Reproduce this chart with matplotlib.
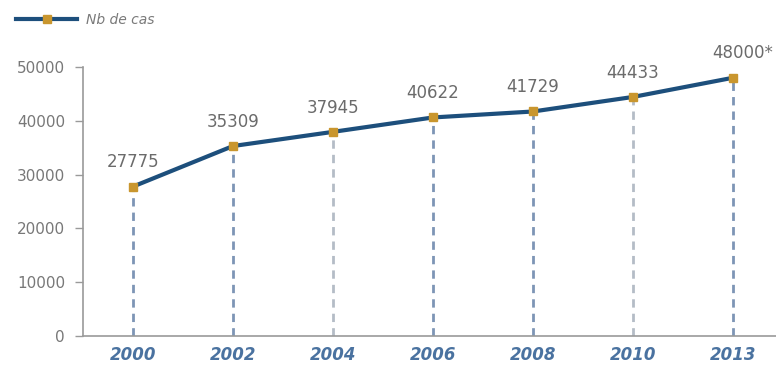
import matplotlib.pyplot as plt

years = ['2000', '2002', '2004', '2006', '2008', '2010', '2013']
cases = [27775, 35309, 37945, 40622, 41729, 44433, 48000]
labels = ['27775', '35309', '37945', '40622', '41729', '44433', '48000*']
yticks = [0, 10000, 20000, 30000, 40000, 50000]

line_col = '#1d4f7c'
marker_col = '#c9962e'
drop_cols = ['#7d95b5', '#7d95b5', '#b4bcc6', '#7d95b5', '#7d95b5', '#b4bcc6', '#7d95b5']

fig = plt.figure(figsize=(7.76, 3.71), dpi=100)
ax = fig.add_axes([83 / 776, 1 - 336 / 371, 1 - 83 / 776, (336 - 67) / 371])

x = list(range(len(years)))
for i in x:
    ax.plot([i, i], [0, cases[i]], color=drop_cols[i], lw=2, ls=(0, (3, 2.2)), zorder=1)

ax.plot(x, cases, color=line_col, lw=3, marker='s', markersize=6,
        markerfacecolor=marker_col, markeredgecolor=marker_col, zorder=3,
        label='Nb de cas')

for i in x:
    dx = 7 if i == len(x) - 1 else 0
    ax.annotate(labels[i], (i, cases[i]), xytext=(dx, 11), textcoords='offset points',
                ha='center', va='bottom', fontsize=12, color='#6b6b6b')

ax.set_xlim(-0.5, 6.43)
ax.set_ylim(0, 50000)
ax.set_yticks(yticks)
ax.set_yticklabels([str(v) for v in yticks], fontsize=11, color='#787878')
ax.set_xticks(x)
ax.set_xticklabels(years, fontsize=12, color='#4a72a0', style='italic', fontweight='bold')
ax.tick_params(axis='x', length=0, pad=7)
ax.tick_params(axis='y', length=6, width=1, color='#9a9a9a', pad=7)

for s in ['top', 'right']:
    ax.spines[s].set_visible(False)
ax.spines['left'].set_color('#9a9a9a')
ax.spines['bottom'].set_color('#9a9a9a')
ax.spines['left'].set_linewidth(1.2)
ax.spines['bottom'].set_linewidth(1.2)

leg = fig.legend(loc='upper left', bbox_to_anchor=(0.005, 1.0), frameon=False,
                 handlelength=4.4, handletextpad=0.6, fontsize=10, markerscale=0.9)
for t in leg.get_texts():
    t.set_color('#7a7a7a')
    t.set_style('italic')

fig.savefig('out.png', dpi=100)
